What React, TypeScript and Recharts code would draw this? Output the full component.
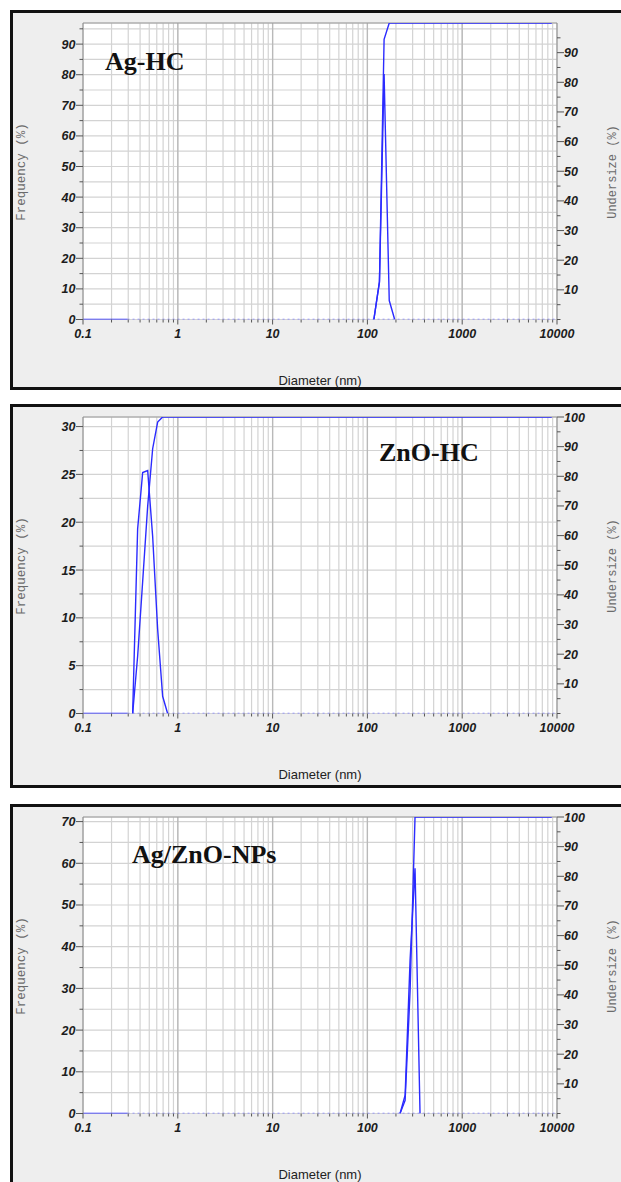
import React from "react";
import { CartesianGrid, Line, LineChart, ReferenceLine, XAxis, YAxis } from "recharts";

document.body.style.margin = "0";

// x axis (log, nm)
const decades = [0.1, 1, 10, 100, 1000, 10000];
const minorSteps = [2, 3, 4, 5, 6, 7, 8, 9];
const innerDecades = [1, 10, 100, 1000];

// left solid stub and dotted zero line, shared by all panels
const leadSizes = [0.1, 0.295];
const baseSizes = [0.295, 10000];

// Ag-HC
const agSizes = [117, 134, 150, 170, 194];
const agFreq = [0, 12.5, 80.2, 6.2, 0];
const agUnderSizes = [117, 134, 150, 170, 8800];
const agUnder = [0, 12.5, 94.5, 100, 100];
const agFreqTicks = [0, 5, 10, 15, 20, 25, 30, 35, 40, 45, 50, 55, 60, 65, 70, 75, 80, 85, 90, 95];
const agRightTicks = [0, 5, 10, 15, 20, 25, 30, 35, 40, 45, 50, 55, 60, 65, 70, 75, 80, 85, 90, 95];

// ZnO-HC
const znSizes = [0.334, 0.377, 0.426, 0.481, 0.543, 0.613, 0.692, 0.781];
const znFreq = [0, 19.3, 25.2, 25.4, 18.5, 8.8, 1.8, 0];
const znUnderSizes = [0.334, 0.377, 0.426, 0.481, 0.543, 0.613, 0.692, 8800];
const znUnder = [0, 19.3, 44.5, 69.9, 89.3, 98.3, 100, 100];
const znFreqTicks = [0, 2.5, 5, 7.5, 10, 12.5, 15, 17.5, 20, 22.5, 25, 27.5, 30];

// Ag/ZnO-NPs
const npSizes = [221, 250, 282, 318, 359];
const npFreq = [0, 4.4, 36.8, 58.8, 0];
const npUnderSizes = [221, 250, 282, 318, 8800];
const npUnder = [0, 4.4, 41.2, 100, 100];
const npFreqTicks = [0, 5, 10, 15, 20, 25, 30, 35, 40, 45, 50, 55, 60, 65, 70];

const fullRightTicks = [0, 5, 10, 15, 20, 25, 30, 35, 40, 45, 50, 55, 60, 65, 70, 75, 80, 85, 90, 95, 100];

const xTicks: number[] = [];
decades.forEach((d) => {
  xTicks.push(d);
  if (d < 10000) minorSteps.forEach((m) => xTicks.push(d * m));
});

const BLUE = "#2b2bff";
const DOT_BLUE = "#8080ff";
const TICK_FONT = {
  fontFamily: "'Liberation Sans', Arial, sans-serif",
  fontSize: 12.5,
  fontWeight: 700,
  fontStyle: "italic" as const,
  fill: "#1c1c1c",
};

const isStep = (v: number, step: number) => Math.abs(v / step - Math.round(v / step)) < 1e-6;

function XTick(props: any) {
  const { x, y, payload } = props;
  const major = decades.some((d) => Math.abs(d - payload.value) / d < 1e-6);
  return (
    <g>
      <line x1={x} x2={x} y1={y} y2={y + (major ? 5 : 3)} stroke="#555" strokeWidth={1} />
      {major && (
        <text x={x} y={y + 18} textAnchor="middle" {...TICK_FONT}>
          {payload.value}
        </text>
      )}
    </g>
  );
}

function LeftTick(props: any) {
  const { x, y, payload, step } = props;
  const major = isStep(payload.value, step);
  return (
    <g>
      <line x1={x - (major ? 7 : 3.5)} x2={x} y1={y} y2={y} stroke="#555" strokeWidth={1} />
      {major && (
        <text x={x - 7.5} y={y + 4.5} textAnchor="end" {...TICK_FONT}>
          {payload.value}
        </text>
      )}
    </g>
  );
}

function RightTick(props: any) {
  const { x, y, payload } = props;
  const major = isStep(payload.value, 10) && payload.value > 0;
  return (
    <g>
      <line x1={x} x2={x + (major ? 7 : 3.5)} y1={y} y2={y} stroke="#555" strokeWidth={1} />
      {major && (
        <text x={x + 7} y={y + 4.5} textAnchor="start" {...TICK_FONT}>
          {payload.value}
        </text>
      )}
    </g>
  );
}

interface PanelSpec {
  top: number;
  height: number;
  title: string;
  titleLeft: number;
  titleBaseline: number;
  freqMax: number;
  freqTicks: number[];
  freqStep: number;
  rightTicks: number[];
  sizes: number[];
  freq: number[];
  underSizes: number[];
  under: number[];
}

const panels: PanelSpec[] = [
  {
    top: 10, height: 380, title: "Ag-HC", titleLeft: 105, titleBaseline: 61,
    freqMax: 96.9, freqTicks: agFreqTicks, freqStep: 10, rightTicks: agRightTicks,
    sizes: agSizes, freq: agFreq, underSizes: agUnderSizes, under: agUnder,
  },
  {
    top: 404, height: 384, title: "ZnO-HC", titleLeft: 379, titleBaseline: 58,
    freqMax: 31, freqTicks: znFreqTicks, freqStep: 5, rightTicks: fullRightTicks,
    sizes: znSizes, freq: znFreq, underSizes: znUnderSizes, under: znUnder,
  },
  {
    top: 804, height: 400, title: "Ag/ZnO-NPs", titleLeft: 132, titleBaseline: 60,
    freqMax: 71.1, freqTicks: npFreqTicks, freqStep: 10, rightTicks: fullRightTicks,
    sizes: npSizes, freq: npFreq, underSizes: npUnderSizes, under: npUnder,
  },
];

function Panel({ p }: { p: PanelSpec }) {
  const freqData = p.sizes.map((d, i) => ({ d, v: p.freq[i] }));
  const underData = p.underSizes.map((d, i) => ({ d, v: p.under[i] }));
  const leadData = leadSizes.map((d) => ({ d, v: 0 }));
  const baseData = baseSizes.map((d) => ({ d, v: 0 }));

  return (
    <div style={{ position: "absolute", left: 0, top: p.top, width: 621, height: p.height }}>
      <div
        style={{
          position: "absolute", left: 10, top: 0, width: 650, height: p.height,
          boxSizing: "border-box", border: "3px solid #111", background: "#eeeeee",
        }}
      />
      <div style={{ position: "absolute", left: 0, top: 0 }}>
        <LineChart width={621} height={380} margin={{ top: 13, right: 0, bottom: 30.5, left: 0 }}>
          <CartesianGrid yAxisId="left" stroke="#d3d3d3" strokeWidth={1.2} fill="#ffffff" />
          {innerDecades.map((d) => (
            <ReferenceLine key={d} x={d} yAxisId="left" stroke="#b9b9b9" strokeWidth={1.3} />
          ))}
          <ReferenceLine y={p.freqMax} yAxisId="left" stroke="#9a9a9a" strokeWidth={1} />
          <XAxis
            dataKey="d" type="number" scale="log" domain={[0.1, 10000]} allowDataOverflow
            ticks={xTicks} interval={0} height={40} tickSize={0} tickMargin={0} tickLine={false}
            axisLine={false} tick={(t: any) => <XTick {...t} />}
          />
          <YAxis
            yAxisId="left" orientation="left" width={83} domain={[0, p.freqMax]} allowDataOverflow
            ticks={p.freqTicks} interval={0} tickSize={0} tickMargin={0} tickLine={false}
            axisLine={{ stroke: "#8a8a8a" }} tick={(t: any) => <LeftTick {...t} step={p.freqStep} />}
          />
          <YAxis
            yAxisId="right" orientation="right" width={64} domain={[0, 100]} allowDataOverflow
            ticks={p.rightTicks} interval={0} tickSize={0} tickMargin={0} tickLine={false}
            axisLine={{ stroke: "#8a8a8a" }} tick={(t: any) => <RightTick {...t} />}
          />
          <Line data={baseData} dataKey="v" yAxisId="left" type="linear" stroke={DOT_BLUE}
            strokeWidth={1.3} strokeDasharray="2 3" dot={false} activeDot={false} isAnimationActive={false} />
          <Line data={leadData} dataKey="v" yAxisId="left" type="linear" stroke={BLUE}
            strokeWidth={1.4} dot={false} activeDot={false} isAnimationActive={false} />
          <Line data={freqData} dataKey="v" yAxisId="left" type="linear" stroke={BLUE}
            strokeWidth={1.4} dot={false} activeDot={false} isAnimationActive={false} />
          <Line data={underData} dataKey="v" yAxisId="right" type="linear" stroke={BLUE}
            strokeWidth={1.4} dot={false} activeDot={false} isAnimationActive={false} />
        </LineChart>
      </div>
      <div
        style={{
          position: "absolute", left: p.titleLeft, top: p.titleBaseline - 22,
          fontFamily: "'Liberation Serif', 'Times New Roman', serif", fontWeight: 700,
          fontSize: 26, lineHeight: "26px", color: "#111", whiteSpace: "nowrap",
        }}
      >
        {p.title}
      </div>
      <div
        style={{
          position: "absolute", left: 320, top: 370, transform: "translate(-50%, -50%)",
          fontFamily: "'Liberation Sans', Arial, sans-serif", fontSize: 13, color: "#222",
          whiteSpace: "nowrap",
        }}
      >
        Diameter (nm)
      </div>
      <div
        style={{
          position: "absolute", left: 22, top: 162, transform: "translate(-50%, -50%) rotate(-90deg)",
          fontFamily: "'Liberation Mono', 'Courier New', monospace", fontSize: 12.5, color: "#6b6b6b",
          whiteSpace: "nowrap",
        }}
      >
        Frequency (%)
      </div>
      <div
        style={{
          position: "absolute", left: 613, top: 162, transform: "translate(-50%, -50%) rotate(-90deg)",
          fontFamily: "'Liberation Mono', 'Courier New', monospace", fontSize: 12, lineHeight: "14px",
          color: "#6b6b6b", whiteSpace: "nowrap",
        }}
      >
        Undersize (%)
      </div>
    </div>
  );
}

export default function App() {
  return (
    <div style={{ position: "relative", width: 621, height: 1182, overflow: "hidden", background: "#ffffff" }}>
      {panels.map((p) => (
        <Panel key={p.title} p={p} />
      ))}
    </div>
  );
}
